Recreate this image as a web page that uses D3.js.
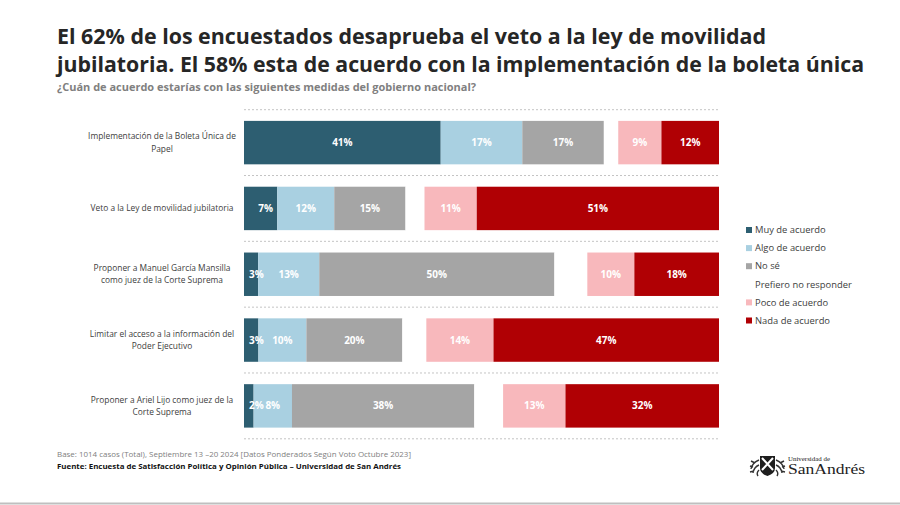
<!DOCTYPE html>
<html>
<head>
<meta charset="utf-8">
<script src="https://cdn.jsdelivr.net/npm/d3@7"></script>
<style>
  html, body { margin: 0; padding: 0; background: #fff; }
  svg { display: block; font-family: "Open Sans", "Noto Sans", sans-serif; }
</style>
</head>
<body>
<svg id="chart" width="900" height="505"></svg>
<script>
// ---- DATA ----
const categories = [
  "Implementación de la Boleta Única de\nPapel",
  "Veto a la Ley de movilidad jubilatoria",
  "Proponer a Manuel García Mansilla\ncomo juez de la Corte Suprema",
  "Limitar el acceso a la información del\nPoder Ejecutivo",
  "Proponer a Ariel Lijo como juez de la\nCorte Suprema"
];
const seriesNames = ["Muy de acuerdo", "Algo de acuerdo", "No sé", "Prefiero no responder", "Poco de acuerdo", "Nada de acuerdo"];
const muyDeAcuerdo   = [41, 7, 3, 3, 2];
const algoDeAcuerdo  = [17, 12, 13, 10, 8];
const noSe           = [17, 15, 50, 20, 38];
const prefieroNoResp = [3, 4, 7, 5, 6];   // estimated from gap widths (unlabelled)
const pocoDeAcuerdo  = [9, 11, 10, 14, 13];
const nadaDeAcuerdo  = [12, 51, 18, 47, 32];
const seriesColors = ["#2d5e71", "#a9d0e1", "#a5a5a5", "#ffffff", "#f8b8bc", "#b00004"];
const showLabel    = [true, true, true, false, true, true];

const titleLines = [
  "El 62% de los encuestados desaprueba el veto a la ley de movilidad",
  "jubilatoria. El 58% esta de acuerdo con la implementación de la boleta única"
];
const subtitle = "¿Cuán de acuerdo estarías con las siguientes medidas del gobierno nacional?";
const baseNote = "Base: 1014 casos (Total), Septiembre 13 –20 2024 [Datos Ponderados Según Voto Octubre 2023]";
const sourceNote = "Fuente: Encuesta de Satisfacción Política y Opinión Pública – Universidad de San Andrés";

// ---- BUILD TABLE ----
const seriesValues = [muyDeAcuerdo, algoDeAcuerdo, noSe, prefieroNoResp, pocoDeAcuerdo, nadaDeAcuerdo];
const table = categories.map((c, i) => {
  const row = { category: c };
  seriesNames.forEach((s, j) => row[s] = seriesValues[j][i]);
  return row;
});
const stacked = d3.stack().keys(seriesNames).offset(d3.stackOffsetExpand)(table);

const svg = d3.select("#chart");

// ---- SCALES ----
const x = d3.scaleLinear().domain([0, 1]).range([244, 719]);
const y = d3.scaleBand().domain(categories).range([109.7, 438.8]).paddingInner(0.34).paddingOuter(0.17);
const color = d3.scaleOrdinal().domain(seriesNames).range(seriesColors);

// ---- TITLE ----
const titleWidths = [709, 807];
const titleBaselines = [43.5, 72];
titleLines.forEach((t, i) => {
  svg.append("text")
    .attr("x", 57).attr("y", titleBaselines[i])
    .attr("font-size", 22).attr("font-weight", 700).attr("fill", "#262626")
    .attr("textLength", titleWidths[i]).attr("lengthAdjust", "spacingAndGlyphs")
    .text(t);
});
svg.append("text")
  .attr("x", 57).attr("y", 91)
  .attr("font-size", 11).attr("font-weight", 700).attr("fill", "#808080")
  .attr("textLength", 419).attr("lengthAdjust", "spacingAndGlyphs")
  .text(subtitle);

// ---- SEPARATORS ----
const sepYs = d3.range(categories.length + 1).map(i => y.range()[0] + i * y.step());
svg.append("g").selectAll("line").data(sepYs).join("line")
  .attr("x1", 244).attr("x2", 719)
  .attr("y1", d => d).attr("y2", d => d)
  .attr("stroke", "#c4c4c4").attr("stroke-width", 1).attr("stroke-dasharray", "2,2");

// ---- BARS ----
const layers = svg.append("g").selectAll("g").data(stacked).join("g")
  .attr("fill", d => color(d.key));
layers.selectAll("rect").data(d => d.map(v => ({ v, key: d.key }))).join("rect")
  .attr("x", d => x(d.v[0]))
  .attr("width", d => x(d.v[1]) - x(d.v[0]))
  .attr("y", d => y(d.v.data.category))
  .attr("height", y.bandwidth());

// ---- VALUE LABELS ----
const labelG = svg.append("g");
stacked.forEach((layer, li) => {
  if (!showLabel[li]) return;
  labelG.selectAll(null).data(layer).join("text")
    .attr("y", d => y(d.data.category) + y.bandwidth() / 2)
    .attr("dy", "0.35em")
    .attr("text-anchor", "middle")
    .attr("font-size", 10).attr("font-weight", 700).attr("fill", "#ffffff")
    .text(d => d.data[layer.key] + "%")
    .attr("x", function (d) {
      const mid = (x(d[0]) + x(d[1])) / 2;
      const w = this.getComputedTextLength();
      const segW = x(d[1]) - x(d[0]);
      // narrow first segments: label pushed inward from the bar's left edge
      return (li === 0 && segW < 40) ? Math.max(mid + 5, x(d[0]) + w / 2 + 5) : mid;
    });
});

// ---- CATEGORY LABELS ----
const catG = svg.append("g");
categories.forEach(c => {
  const lines = c.split("\n");
  const cy = y(c) + y.bandwidth() / 2;
  const lh = 12.5;
  const t = catG.append("text")
    .attr("text-anchor", "middle")
    .attr("font-size", 8.4).attr("fill", "#404040");
  lines.forEach((ln, k) => {
    t.append("tspan")
      .attr("x", 162)
      .attr("y", cy + (k - (lines.length - 1) / 2) * lh)
      .attr("dy", "0.35em")
      .text(ln);
  });
});

// ---- LEGEND ----
const legend = svg.append("g").selectAll("g").data(seriesNames).join("g")
  .attr("transform", (d, i) => `translate(746, ${230 + i * 18.1})`);
legend.append("rect")
  .attr("x", 0).attr("y", -3).attr("width", 6).attr("height", 6)
  .attr("fill", d => color(d));
legend.append("text")
  .attr("x", 9).attr("dy", "0.35em")
  .attr("font-size", 9.4).attr("fill", "#404040")
  .text(d => d);

// ---- FOOTER ----
svg.append("text")
  .attr("x", 57).attr("y", 457)
  .attr("font-size", 7.5).attr("fill", "#808080")
  .attr("textLength", 354).attr("lengthAdjust", "spacingAndGlyphs")
  .text(baseNote);
svg.append("text")
  .attr("x", 57).attr("y", 469)
  .attr("font-size", 7.5).attr("font-weight", 700).attr("fill", "#111111")
  .attr("textLength", 344).attr("lengthAdjust", "spacingAndGlyphs")
  .text(sourceNote);

// ---- LOGO ----
const logo = svg.append("g").attr("transform", "translate(750, 455)");
// shield: dark with white saltire
logo.append("path")
  .attr("d", "M10,1 H25 V13 Q25,18.5 17.5,21 Q10,18.5 10,13 Z")
  .attr("fill", "#1e1e1e");
logo.append("path")
  .attr("d", "M12,3 L23,15 M23,3 L12,15")
  .attr("stroke", "#ffffff").attr("stroke-width", 2);
// laurels
logo.append("path")
  .attr("d", "M9,5 Q2,8 1,14 M9,10 Q4,12 3,18 M9,15 Q6,18 8,21 M5,8 l-4,-2 M3,12 l-3,-1 M4,16 l-4,1")
  .attr("fill", "none").attr("stroke", "#333").attr("stroke-width", 1.4);
logo.append("path")
  .attr("d", "M26,5 Q33,8 34,14 M26,10 Q31,12 32,18 M26,15 Q29,18 27,21 M30,8 l4,-2 M32,12 l3,-1 M31,16 l4,1")
  .attr("fill", "none").attr("stroke", "#333").attr("stroke-width", 1.4);
logo.append("text")
  .attr("x", 38).attr("y", 6)
  .attr("font-family", "Liberation Serif, DejaVu Serif, serif")
  .attr("font-size", 6).attr("fill", "#222")
  .attr("textLength", 42).attr("lengthAdjust", "spacingAndGlyphs")
  .text("Universidad de");
logo.append("text")
  .attr("x", 38).attr("y", 18.5)
  .attr("font-family", "Liberation Serif, DejaVu Serif, serif")
  .attr("font-size", 15).attr("fill", "#222")
  .attr("textLength", 77).attr("lengthAdjust", "spacingAndGlyphs")
  .text("SanAndrés");

// ---- BOTTOM RULE ----
svg.append("line")
  .attr("x1", 0).attr("x2", 900).attr("y1", 503.5).attr("y2", 503.5)
  .attr("stroke", "#bfbfbf").attr("stroke-width", 2);
</script>
</body>
</html>
